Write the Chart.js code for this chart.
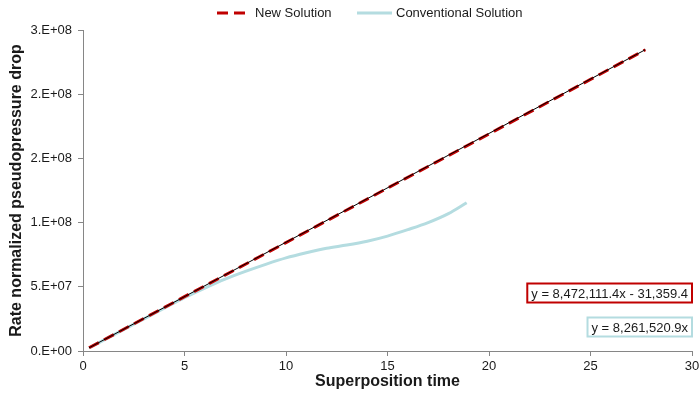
<!DOCTYPE html>
<html>
<head>
<meta charset="utf-8">
<title>Rate normalized pseudopressure drop</title>
<script src="https://cdn.jsdelivr.net/npm/chart.js@4.4.1/dist/chart.umd.min.js"></script>
<style>
  html, body { margin: 0; padding: 0; background: #fff; }
  #wrap { width: 699px; height: 403px; position: relative; }
</style>
</head>
<body>
<div id="wrap"><canvas id="rnpChart"></canvas></div>
<script>
'use strict'

//++++++++++++++ Data ++++++++++++++//
let newTime = [0.3, 5, 10, 15, 20, 25, 27.7];
let newDrop = [2.5e6, 4.23e7, 8.44e7, 1.268e8, 1.69e8, 2.115e8, 2.346e8];

let convTime = [0.3, 1, 2, 3, 4, 5, 6, 7, 8, 9, 10, 11, 12, 13, 14, 15, 16, 17, 18, 18.9];
let convDrop = [2.4e6, 8.3e6, 1.67e7, 2.5e7, 3.33e7, 4.15e7, 4.9e7, 5.6e7, 6.2e7, 6.75e7,
  7.25e7, 7.65e7, 8.0e7, 8.25e7, 8.55e7, 8.95e7, 9.45e7, 1.0e8, 1.07e8, 1.155e8];

// linear trend of the new solution
let trendSlope = 8472111.4;
let trendIntercept = -31359.4;
let trendTime = [0.3, 27.7];

let xTicks = [0, 5, 10, 15, 20, 25, 30];
let yTicks = [0, 5e7, 1e8, 1.5e8, 2e8, 2.5e8];
let yTickLabels = ['0.E+00', '5.E+07', '1.E+08', '2.E+08', '2.E+08', '3.E+08'];

let seriesNames = ['New Solution', 'Conventional Solution'];
let equationLabels = ['y = 8,472,111.4x - 31,359.4', 'y = 8,261,520.9x'];

//++++++++++++++ Styles ++++++++++++++//
let red = '#c00000';
let cyan = '#b4dce0';
let axisGray = '#868686';
let textColor = '#1a1a1a';
let fontName = '"Liberation Sans", Arial, sans-serif';

function toPoints(xs, ys) {
  let pts = [];
  for (let i = 0; i < xs.length; i++) {
    pts.push({ x: xs[i], y: ys[i] });
  }
  return pts;
}

let trendPoints = trendTime.map(t => ({ x: t, y: trendSlope * t + trendIntercept }));

//++++++++++++++ Legend + equation boxes ++++++++++++++//
const overlayPlugin = {
  id: 'overlay',
  afterDraw(chart) {
    const ctx = chart.ctx;
    ctx.save();
    ctx.font = '13px ' + fontName;
    ctx.textBaseline = 'middle';
    ctx.fillStyle = textColor;

    // legend
    let ly = 13;
    ctx.lineWidth = 3;
    ctx.strokeStyle = red;
    ctx.setLineDash([11, 6]);
    ctx.beginPath();
    ctx.moveTo(217, ly);
    ctx.lineTo(249, ly);
    ctx.stroke();
    ctx.setLineDash([]);
    ctx.fillText(seriesNames[0], 255, ly);

    ctx.strokeStyle = cyan;
    ctx.beginPath();
    ctx.moveTo(357, ly);
    ctx.lineTo(392, ly);
    ctx.stroke();
    ctx.fillText(seriesNames[1], 396, ly);

    // fit equations, right edge on the plot edge
    let right = chart.chartArea.right;
    drawEquation(ctx, equationLabels[0], right, 293, red);
    drawEquation(ctx, equationLabels[1], right, 327, cyan);
    ctx.restore();
  }
};

function drawEquation(ctx, text, right, cy, color) {
  let w = ctx.measureText(text).width + 8;
  let h = 19;
  ctx.lineWidth = 2;
  ctx.strokeStyle = color;
  ctx.fillStyle = '#fff';
  ctx.fillRect(right - w, cy - h / 2, w, h);
  ctx.strokeRect(right - w, cy - h / 2, w, h);
  ctx.fillStyle = textColor;
  ctx.textAlign = 'right';
  ctx.fillText(text, right - 4, cy + 1);
  ctx.textAlign = 'left';
}

//++++++++++++++ Chart ++++++++++++++//
const ctx = document.getElementById('rnpChart').getContext('2d');
const rnpChart = new Chart(ctx, {
  type: 'scatter',
  data: {
    datasets: [{
      label: 'Linear trend',
      data: trendPoints,
      showLine: true,
      borderColor: '#000',
      borderWidth: 1,
      pointRadius: 0
    }, {
      label: seriesNames[0],
      data: toPoints(newTime, newDrop),
      showLine: true,
      borderColor: red,
      borderWidth: 3,
      borderDash: [11, 6],
      pointRadius: 0
    }, {
      label: seriesNames[1],
      data: toPoints(convTime, convDrop),
      showLine: true,
      borderColor: cyan,
      borderWidth: 3,
      cubicInterpolationMode: 'monotone',
      pointRadius: 0
    }]
  },
  options: {
    responsive: true,
    maintainAspectRatio: false,
    animation: false,
    layout: { padding: { top: 30, right: 7, bottom: 0, left: 0 } },
    plugins: {
      legend: { display: false },
      tooltip: { enabled: false }
    },
    scales: {
      x: {
        type: 'linear',
        min: 0,
        max: 30,
        afterBuildTicks: s => { s.ticks = xTicks.map(v => ({ value: v })); },
        afterFit: s => { s.height = 52; s.paddingRight = 0; },
        grid: { drawOnChartArea: false, drawTicks: true, tickLength: 5, color: axisGray },
        border: { color: axisGray, width: 1 },
        ticks: {
          color: textColor,
          padding: 3,
          maxRotation: 0,
          font: { family: fontName, size: 13 }
        },
        title: {
          display: true,
          text: 'Superposition time',
          color: textColor,
          padding: { top: 0, bottom: 12 },
          font: { family: fontName, size: 16, weight: 'bold' }
        }
      },
      y: {
        type: 'linear',
        min: 0,
        max: 2.5e8,
        afterBuildTicks: s => { s.ticks = yTicks.map(v => ({ value: v })); },
        afterFit: s => { s.width = 83; },
        grid: { drawOnChartArea: false, drawTicks: true, tickLength: 5, color: axisGray },
        border: { color: axisGray, width: 1 },
        ticks: {
          color: textColor,
          padding: 6,
          font: { family: fontName, size: 13 },
          callback: (value, index) => yTickLabels[index]
        },
        title: {
          display: true,
          text: 'Rate normalized pseudopressure drop',
          color: textColor,
          padding: { top: 7, bottom: 0 },
          font: { family: fontName, size: 16, weight: 'bold' }
        }
      }
    }
  },
  plugins: [overlayPlugin]
});
</script>
</body>
</html>
